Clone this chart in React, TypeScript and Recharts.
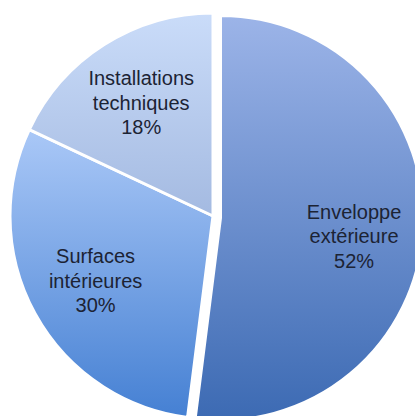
import React from 'react';
import { PieChart, Pie, Cell } from 'recharts';

const categories = ['Enveloppe extérieure', 'Surfaces intérieures', 'Installations techniques'];
const labelLines = [
  ['Enveloppe', 'extérieure'],
  ['Surfaces', 'intérieures'],
  ['Installations', 'techniques'],
];
const shares = [52, 30, 18];
const gradTop = ['#9cb4e8', '#aac8f7', '#cadcf9'];
const gradBottom = ['#3c6ab3', '#4580d3', '#a4bae1'];

const data = categories.map((name, i) => ({ name, value: shares[i], lines: labelLines[i] }));

const RAD = Math.PI / 180;

const makeLabel = (visible: number[], dy: number) => (props: any) => {
  const { cx, cy, midAngle, outerRadius, index } = props;
  if (!visible.includes(index)) return null;
  const r = outerRadius * 0.66;
  const x = cx + r * Math.cos(-midAngle * RAD);
  const y = cy + r * Math.sin(-midAngle * RAD) + dy;
  const lines = [...data[index].lines, `${data[index].value}%`];
  const lh = 24.5;
  const y0 = y - lh;
  return (
    <text
      x={x}
      y={y0}
      textAnchor="middle"
      dominantBaseline="central"
      fill="#1c2334"
      fontFamily="'Liberation Sans', Arial, sans-serif"
      fontSize={20}
    >
      {lines.map((l, k) => (
        <tspan key={k} x={x} y={y0 + k * lh} dominantBaseline="central">
          {l}
        </tspan>
      ))}
    </text>
  );
};

export default function App() {
  return (
    <div style={{ position: 'absolute', left: 0, top: 0, width: 415, height: 416, background: '#fff' }}>
      <PieChart width={415} height={416} margin={{ top: 0, right: 0, bottom: 0, left: 0 }}>
        <defs>
          {gradTop.map((c, i) => (
            <linearGradient key={i} id={`g${i}`} x1="0" y1="0" x2="0" y2="1">
              <stop offset="0%" stopColor={c} />
              <stop offset="100%" stopColor={gradBottom[i]} />
            </linearGradient>
          ))}
        </defs>
        <Pie
          data={data}
          dataKey="value"
          cx={213}
          cy={216}
          outerRadius={203}
          startAngle={90}
          endAngle={-270}
          isAnimationActive={false}
          labelLine={false}
          label={makeLabel([1, 2], 0)}
        >
          {data.map((d, i) => (
            <Cell
              key={i}
              fill={i === 0 ? 'transparent' : `url(#g${i})`}
              stroke={i === 0 ? 'none' : '#ffffff'}
              strokeWidth={3}
            />
          ))}
        </Pie>
        <Pie
          data={data}
          dataKey="value"
          cx={221}
          cy={218}
          outerRadius={202}
          startAngle={90}
          endAngle={-270}
          isAnimationActive={false}
          labelLine={false}
          label={makeLabel([0], 10)}
        >
          {data.map((d, i) => (
            <Cell
              key={i}
              fill={i === 0 ? `url(#g${i})` : 'transparent'}
              stroke={i === 0 ? '#ffffff' : 'none'}
              strokeWidth={2}
            />
          ))}
        </Pie>
      </PieChart>
    </div>
  );
}
